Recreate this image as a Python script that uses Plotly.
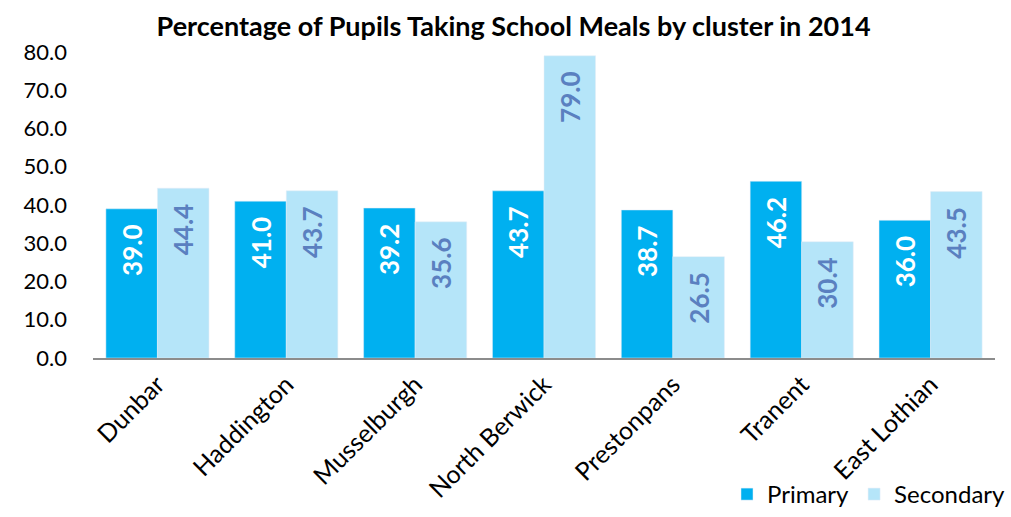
import plotly.graph_objects as go

clusters = ["Dunbar", "Haddington", "Musselburgh", "North Berwick",
            "Prestonpans", "Tranent", "East Lothian"]
primary = [39.0, 41.0, 39.2, 43.7, 38.7, 46.2, 36.0]
secondary = [44.4, 43.7, 35.6, 79.0, 26.5, 30.4, 43.5]
y_ticks = [0, 10, 20, 30, 40, 50, 60, 70, 80]

FONT = "Lato, Calibri, Arial, sans-serif"
PAD = "\u00a0\u00a0"  # keeps the value label a little below the bar top


def labels(values):
    return [f"{v:.1f}{PAD}" for v in values]


fig = go.Figure()
fig.add_trace(go.Bar(
    name="Primary", x=clusters, y=primary,
    marker_color="#00B0F0",
    text=labels(primary),
    textposition="inside", insidetextanchor="end", textangle=-90,
    textfont=dict(family=FONT, size=26, color="white", weight="bold"),
))
fig.add_trace(go.Bar(
    name="Secondary", x=clusters, y=secondary,
    marker_color="#B5E5F9",
    text=labels(secondary),
    textposition="inside", insidetextanchor="end", textangle=-90,
    textfont=dict(family=FONT, size=26, color="#5A80C0", weight="bold"),
))

fig.update_layout(
    width=1011, height=517,
    margin=dict(l=93, r=16, t=52, b=159),
    paper_bgcolor="white", plot_bgcolor="white",
    barmode="group", bargap=0.2, bargroupgap=0,
    font=dict(family=FONT, size=22, color="black"),
    title=dict(text="<b>Percentage of Pupils Taking School Meals by cluster in 2014</b>",
               x=0.508, xref="container", xanchor="center",
               y=0.948, yref="container", yanchor="middle",
               font=dict(family=FONT, size=27, color="black")),
    showlegend=True,
    legend=dict(orientation="h", x=1.0, xref="container", xanchor="right",
                y=0.0, yref="container", yanchor="bottom",
                font=dict(family=FONT, size=24), itemwidth=30,
                traceorder="normal", borderwidth=0,
                bgcolor="rgba(0,0,0,0)"),
    uniformtext=dict(minsize=26, mode="show"),
)
fig.update_xaxes(showline=True, linecolor="#8C8C8C", linewidth=2,
                 tickangle=-45, ticks="", tickfont=dict(size=25),
                 automargin=False)
fig.update_yaxes(range=[0, 80], tickvals=y_ticks,
                 ticktext=[f"{v:.1f}" for v in y_ticks],
                 showgrid=False, zeroline=False, showline=False,
                 ticks="", tickfont=dict(size=22), ticklabelstandoff=25,
                 automargin=False)

fig.write_html("out.html")
